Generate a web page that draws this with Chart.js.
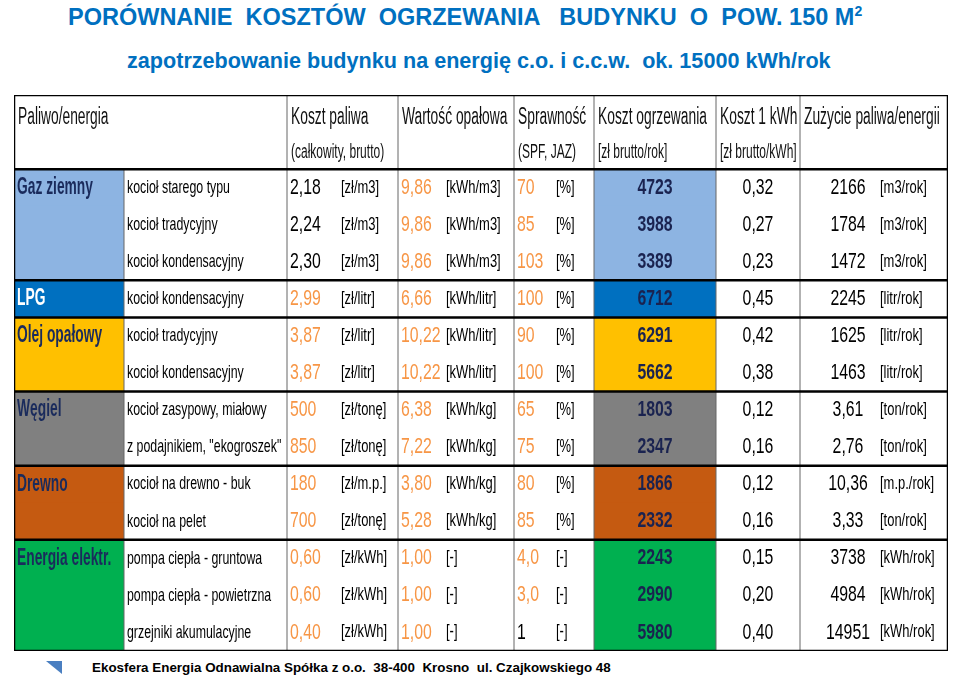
<!DOCTYPE html>
<html><head><meta charset="utf-8">
<script src="https://cdn.jsdelivr.net/npm/chart.js@4"></script>
<style>
body{margin:0;width:960px;height:682px;background:#fff;font-family:Arial,"Liberation Sans",sans-serif;position:relative;overflow:hidden}
#t1{position:absolute;left:68px;top:3px;color:#0070c0;font-weight:bold;font-size:23.5px;white-space:pre}
#t2{position:absolute;left:127px;top:48px;color:#0070c0;font-weight:bold;font-size:21.6px;white-space:pre}
#wrap{position:absolute;left:14px;top:95px;width:934px;height:556px}
#foot{position:absolute;left:92px;top:660px;font-weight:bold;font-size:13.4px;white-space:pre}
#arrow{position:absolute;left:46px;top:661px;width:0;height:0;border-top:13px solid #4a7fc1;border-left:16px solid transparent}
</style></head><body>
<div id="t1">PORÓWNANIE  KOSZTÓW  OGRZEWANIA   BUDYNKU  O  POW. 150 M<sup style="font-size:14px">2</sup></div>
<div id="t2">zapotrzebowanie budynku na energię c.o. i c.c.w.  ok. 15000 kWh/rok</div>
<div id="wrap"><canvas id="tab"></canvas></div>
<div id="arrow"></div>
<div id="foot">Ekosfera Energia Odnawialna Spółka z o.o.  38-400  Krosno  ul. Czajkowskiego 48</div>
<script>
// data
var groups=['Gaz ziemny','LPG','Olej opałowy','Węgiel','Drewno','Energia elektr.'];
var groupRows=[3,1,2,2,2,3];
var groupColors=['#8db4e2','#0070c0','#ffc000','#808080','#c55a11','#00b050'];
var devices=['kocioł starego typu','kocioł tradycyjny','kocioł kondensacyjny','kocioł kondensacyjny','kocioł tradycyjny','kocioł kondensacyjny','kocioł zasypowy, miałowy','z podajnikiem, "ekogroszek"','kocioł na drewno - buk','kocioł na pelet','pompa ciepła - gruntowa','pompa ciepła - powietrzna','grzejniki akumulacyjne'];
var fuelPrice=['2,18','2,24','2,30','2,99','3,87','3,87','500','850','180','700','0,60','0,60','0,40'];
var priceUnit=['[zł/m3]','[zł/m3]','[zł/m3]','[zł/litr]','[zł/litr]','[zł/litr]','[zł/tonę]','[zł/tonę]','[zł/m.p.]','[zł/tonę]','[zł/kWh]','[zł/kWh]','[zł/kWh]'];
var calorific=['9,86','9,86','9,86','6,66','10,22','10,22','6,38','7,22','3,80','5,28','1,00','1,00','1,00'];
var calUnit=['[kWh/m3]','[kWh/m3]','[kWh/m3]','[kWh/litr]','[kWh/litr]','[kWh/litr]','[kWh/kg]','[kWh/kg]','[kWh/kg]','[kWh/kg]','[-]','[-]','[-]'];
var efficiency=['70','85','103','100','90','100','65','75','80','85','4,0','3,0','1'];
var effUnit=['[%]','[%]','[%]','[%]','[%]','[%]','[%]','[%]','[%]','[%]','[-]','[-]','[-]'];
var heatingCost=[4723,3988,3389,6712,6291,5662,1803,2347,1866,2332,2243,2990,5980];
var costKwh=['0,32','0,27','0,23','0,45','0,42','0,38','0,12','0,16','0,12','0,16','0,15','0,20','0,40'];
var usage=['2166','1784','1472','2245','1625','1463','3,61','2,76','10,36','3,33','3738','4984','14951'];
var usageUnit=['[m3/rok]','[m3/rok]','[m3/rok]','[litr/rok]','[litr/rok]','[litr/rok]','[ton/rok]','[ton/rok]','[m.p./rok]','[ton/rok]','[kWh/rok]','[kWh/rok]','[kWh/rok]'];
var headers=['Paliwo/energia','Koszt paliwa','Wartość opałowa','Sprawność','Koszt ogrzewania','Koszt 1 kWh','Zużycie paliwa/energii'];
var headers2=['','(całkowity, brutto)','','(SPF, JAZ)','[zł brutto/rok]','[zł brutto/kWh]',''];
// column edges in table units
var colEdges=[0,110,273,384,500,580,702,786,934];

var rowLabels=['h1','h2'].concat(devices.map(function(d,i){return 'r'+i;}));
var rowColor=[],rowGroup=[],rowFirst=[];
groups.forEach(function(g,gi){for(var k=0;k<groupRows[gi];k++){rowColor.push(groupColors[gi]);rowGroup.push(gi);rowFirst.push(k==0);}});
var orangePrice=fuelPrice.map(function(v,i){return i>=3;});
var FONT='"Liberation Sans",Arial,sans-serif';

function txt(ctx,s,x,y,font,color,align,sq){
  ctx.save();ctx.translate(x,y);ctx.scale(sq||0.72,1);
  ctx.font=font+' '+FONT;ctx.fillStyle=color;ctx.textAlign=align||'left';ctx.textBaseline='middle';
  ctx.fillText(s,0,0);ctx.restore();
}

var tablePlugin={id:'tablePlugin',afterDatasetsDraw:function(c){
  var x=c.scales.x,y=c.scales.y,ctx=c.ctx;
  var rh=y.height/rowLabels.length, top=y.getPixelForValue(0)-rh/2;
  function rowY(i){return top+rh*(i+2)+rh/2;}
  function X(v){return x.getPixelForValue(v);}
  var hcols=[0,2,3,4,5,6,7];
  headers.forEach(function(h,i){
    var cx=X(colEdges[hcols[i]])+4;
    txt(ctx,h,cx,top+rh*0.6,'23px','#111','left',0.6);
    if(headers2[i])txt(ctx,headers2[i],cx,top+rh*1.55,'20px','#111','left',0.6);
  });
  for(var i=0;i<devices.length;i++){
    var yy=rowY(i);
    if(rowFirst[i])txt(ctx,groups[rowGroup[i]],X(3),top+rh*(i+2)+rh*0.5,'bold 23px',rowGroup[i]==1?'#fff':'#1a2b5c','left',0.6);
    txt(ctx,devices[i],X(colEdges[1]+3),yy,'19px','#000','left',0.65);
    txt(ctx,fuelPrice[i],X(colEdges[2]+3),yy,'22px',orangePrice[i]?'#f79646':'#000');
    txt(ctx,priceUnit[i],X(colEdges[2]+54),yy,'18px','#000');
    txt(ctx,calorific[i],X(colEdges[3]+3),yy,'22px','#f79646');
    txt(ctx,calUnit[i],X(colEdges[3]+48),yy,'18px','#000');
    txt(ctx,efficiency[i],X(colEdges[4]+3),yy,'22px',i==12?'#000':'#f79646');
    txt(ctx,effUnit[i],X(colEdges[4]+42),yy,'18px','#000');
    txt(ctx,String(heatingCost[i]),X((colEdges[5]+colEdges[6])/2),yy,'bold 22px','#1a2350','center');
    txt(ctx,costKwh[i],X((colEdges[6]+colEdges[7])/2),yy,'22px','#000','center');
    txt(ctx,usage[i],X(colEdges[7]+48),yy,'22px','#000','center');
    txt(ctx,usageUnit[i],X(colEdges[7]+80),yy,'18px','#000');
  }
  ctx.save();
  ctx.strokeStyle='#666';ctx.lineWidth=1;
  var bot=top+rh*rowLabels.length;
  colEdges.forEach(function(e,k){if(k==0||k==colEdges.length-1)return;ctx.beginPath();
    var y0=(k==1)?top+rh*2:top;ctx.moveTo(X(e),y0);ctx.lineTo(X(e),bot);ctx.stroke();});
  ctx.strokeStyle='#000';ctx.lineWidth=2.5;
  ctx.strokeRect(X(0),top,X(934)-X(0),bot-top);
  var r=2;ctx.beginPath();ctx.moveTo(X(0),top+rh*2);ctx.lineTo(X(934),top+rh*2);
  groupRows.forEach(function(n,gi){r+=n;if(gi<groupRows.length-1){ctx.moveTo(X(0),top+rh*r);ctx.lineTo(X(934),top+rh*r);}});
  ctx.stroke();
  ctx.restore();
}};

new Chart(document.getElementById('tab'),{
  type:'bar',
  data:{labels:rowLabels,datasets:[
    {data:rowLabels.map(function(l,i){return i<2?null:[colEdges[0],colEdges[1]];}),backgroundColor:[null,null].concat(rowColor),barPercentage:1,categoryPercentage:1.02,grouped:false},
    {data:rowLabels.map(function(l,i){return i<2?null:[colEdges[5],colEdges[6]];}),backgroundColor:[null,null].concat(rowColor),barPercentage:1,categoryPercentage:1.02,grouped:false}
  ]},
  options:{indexAxis:'y',responsive:true,maintainAspectRatio:false,animation:false,
    layout:{padding:0},
    plugins:{legend:{display:false},tooltip:{enabled:false}},
    scales:{x:{type:'linear',min:0,max:934,display:false},y:{display:false}}},
  plugins:[tablePlugin]
});
</script>
</body></html>
